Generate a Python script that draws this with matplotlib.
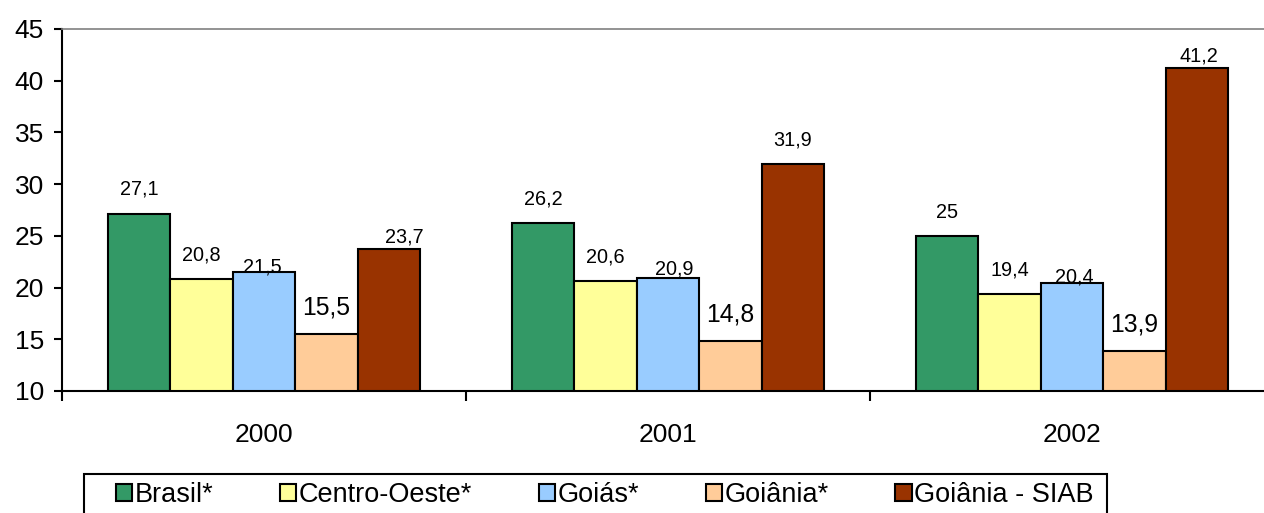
import numpy as np
import matplotlib
matplotlib.use("Agg")
import matplotlib.pyplot as plt
from matplotlib.patches import Patch, Rectangle

plt.rcParams['font.family'] = ['Liberation Sans', 'DejaVu Sans']

# ─── DATA ────────────────────────────────────────────────────────────────────
years = ['2000', '2001', '2002']
series = ['Brasil*', 'Centro-Oeste*', 'Goiás*', 'Goiânia*', 'Goiânia - SIAB']
brasil = [27.1, 26.2, 25.0]
centro_oeste = [20.8, 20.6, 19.4]
goias = [21.5, 20.9, 20.4]
goiania = [15.5, 14.8, 13.9]
goiania_siab = [23.7, 31.9, 41.2]
values = [brasil, centro_oeste, goias, goiania, goiania_siab]

colors = ['#339966', '#FFFF99', '#99CCFF', '#FFCC99', '#993300']
label_sizes = [14.3, 14.3, 14.3, 17.8, 14.3]

# label offsets in pixels (dx, dy) relative to bar top, per series / year
label_dx = [[0, 0, 0], [0, 0, 0], [-2, 6, 2], [0, 0, 0], [15, 0, 2]]
label_dy = [[25, 24, 23], [24, 24, 24], [5, 9, 6], [27, 27, 26], [12, 24, 12]]

# ─── PLOT ────────────────────────────────────────────────────────────────────
W, H = 1264, 513
fig = plt.figure(figsize=(W / 100, H / 100), dpi=100)
ax = fig.add_axes([62 / W, 1 - 391 / H, (1274 - 62) / W, (391 - 29) / H])

x = np.arange(len(years))
bw = 0.1545
for i, vals in enumerate(values):
    xs = x + (i - 2) * bw
    ax.bar(xs, np.array(vals) - 10, bottom=10, width=bw, color=colors[i],
           edgecolor='black', linewidth=1.5, zorder=3)
    for j, v in enumerate(vals):
        ax.annotate(f"{v:g}".replace('.', ','), xy=(xs[j], v),
                    xytext=(label_dx[i][j], label_dy[i][j]),
                    textcoords='offset pixels', ha='center', va='center',
                    fontsize=label_sizes[i], color='black', zorder=4)

ax.set_xlim(-0.5, 2.5)
ax.set_ylim(10, 45)
ax.set_yticks(range(10, 46, 5))
ax.tick_params(axis='y', direction='out', length=6, width=1.5, pad=7,
               labelsize=19)

ax.set_xticks([-0.5, 0.5, 1.5, 2.5])
ax.set_xticklabels([])
ax.set_xticks(x, minor=True)
ax.set_xticklabels(years, minor=True)
ax.tick_params(axis='x', which='major', direction='out', length=7, width=1.5)
ax.tick_params(axis='x', which='minor', length=0, pad=23, labelsize=19)

for sp in ['left', 'bottom']:
    ax.spines[sp].set_linewidth(1.5)
    ax.spines[sp].set_color('black')
for sp in ['top', 'right']:
    ax.spines[sp].set_linewidth(1.2)
    ax.spines[sp].set_color('#808080')

# legend frame drawn separately (runs off the bottom edge like the original)
fig.patches.append(Rectangle((84 / W, -0.05), (1107 - 84) / W, 1 - 474 / H + 0.05,
                             transform=fig.transFigure, facecolor='white',
                             edgecolor='black', linewidth=1.5, zorder=0))

handles = [Patch(facecolor=c, edgecolor='black', linewidth=1.5) for c in colors]
leg = fig.legend(handles, series, loc='center left',
                 bbox_to_anchor=(116 / W, 1 - 495 / H), ncol=5, fontsize=19.5,
                 frameon=False, handlelength=0.6, handleheight=0.6,
                 handletextpad=0.1, columnspacing=2.45, borderpad=0,
                 borderaxespad=0)

fig.savefig('out.png', dpi=100, facecolor='white')
